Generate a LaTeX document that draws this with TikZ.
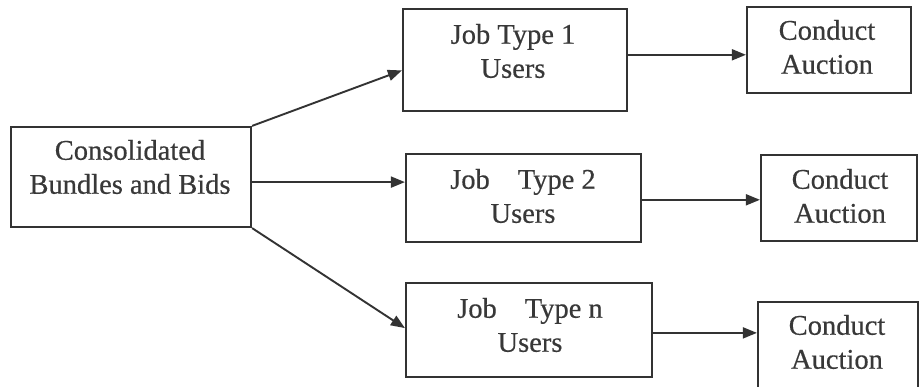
\documentclass[tikz,border=0pt]{standalone}
\usepackage{fontspec}
\setmainfont{Liberation Serif}[FakeBold=0.5]
\usetikzlibrary{arrows.meta,calc}
\definecolor{ink}{HTML}{333333}
\definecolor{txt}{HTML}{383838}
\begin{document}
\begin{tikzpicture}[x=1pt,y=-1pt,
  box/.style={draw=ink,line width=2.2pt,inner sep=0pt,fill=white},
  lbl/.style={text=txt,align=center,inner sep=0pt,
    font=\fontsize{28.5}{34}\selectfont},
  arr/.style={draw=ink,line width=1.9pt,-{Triangle[length=14pt,width=11pt]}}]
\useasboundingbox[fill=white] (0,0) rectangle (919,387);
% boxes
\node[box,minimum width=240pt,minimum height=100pt] (lb) at (131,177) {};
\node[box,minimum width=224pt,minimum height=102pt] (j1) at (515,60) {};
\node[box,minimum width=164pt,minimum height=86pt]  (c1) at (829,50) {};
\node[box,minimum width=235pt,minimum height=88pt]  (j2) at (523.5,198) {};
\node[box,minimum width=156pt,minimum height=86pt]  (c2) at (839,198) {};
\node[box,minimum width=246pt,minimum height=94pt]  (jn) at (529,330) {};
\node[box,minimum width=160pt,minimum height=88pt]  (cn) at (838,346) {};
% texts
\node[lbl] (tlb) at (130,167) {Consolidated\\Bundles and Bids};
\node[lbl] (tj1) at (513,51) {Job Type 1\\Users};
\node[lbl] (tc1) at (827,47) {Conduct\\Auction};
\node[lbl] (tj2) at (523,196) {Job\hspace{28pt}Type 2\\Users};
\node[lbl] (tc2) at (840,196) {Conduct\\Auction};
\node[lbl] (tjn) at (530,325) {Job\hspace{28pt}Type n\\Users};
\node[lbl] (tcn) at (837,342) {Conduct\\Auction};
% connectors
\coordinate (e1) at ($(j1.north west)!0.6!(j1.south west)$);
\coordinate (s2) at ($(lb.north east)!0.55!(lb.south east)$);
\coordinate (en) at ($(jn.north west)!0.48!(jn.south west)$);
\draw[arr] (lb.north east) -- (e1);
\draw[arr] (s2) -- (s2 -| j2.west);
\draw[arr] (lb.south east) -- (en);
\coordinate (r1) at ($(j1.north east)!0.45!(j1.south east)$);
\coordinate (r2) at ($(j2.north east)!0.52!(j2.south east)$);
\coordinate (rn) at ($(jn.north east)!0.53!(jn.south east)$);
\draw[arr] (r1) -- (r1 -| c1.west);
\draw[arr] (r2) -- (r2 -| c2.west);
\draw[arr] (rn) -- (rn -| cn.west);
\end{tikzpicture}
\end{document}
